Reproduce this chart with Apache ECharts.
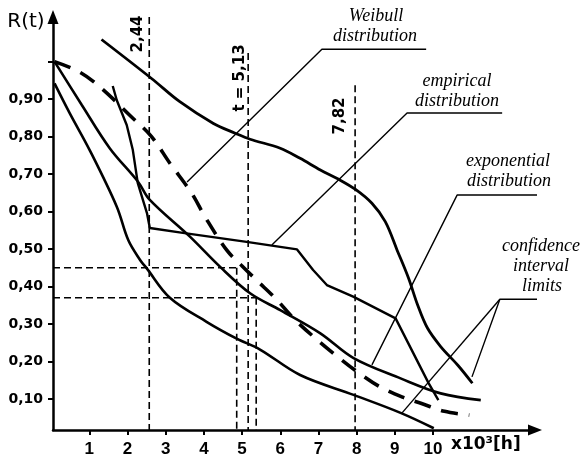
<!DOCTYPE html>
<html><head><meta charset="utf-8">
<script src="https://cdn.jsdelivr.net/npm/echarts@6/dist/echarts.min.js"></script>
<style>html,body{margin:0;padding:0;background:#fff}#c{width:587px;height:461px}</style>
</head><body><div id="c"></div>
<script>
// ---- data ----
const xTicks = [1, 2, 3, 4, 5, 6, 7, 8, 9, 10];
const yTicks = [0.1, 0.2, 0.3, 0.4, 0.5, 0.6, 0.7, 0.8, 0.9, 1.0];
const yLabelValues = [0.1, 0.2, 0.3, 0.4, 0.5, 0.6, 0.7, 0.8, 0.9];

const upperLimit = [[1.32,1.059],[2.63,0.955],[3.37,0.893],[4.25,0.835],[4.82,0.809],[5.21,0.793],[6.0,0.769],[6.52,0.742],[7.05,0.711],[7.53,0.686],[7.97,0.659],[8.40,0.622],[8.75,0.573],[9.06,0.497],[9.36,0.422],[9.6,0.35],[9.85,0.29],[10.2,0.24],[10.65,0.19],[11.03,0.142]];
const lowerLimit = [[0.09,0.942],[0.49,0.862],[1.01,0.764],[1.72,0.613],[2.02,0.524],[2.33,0.471],[2.5,0.449],[3.11,0.37],[4.07,0.306],[4.86,0.261],[5.47,0.232],[6.52,0.164],[7.92,0.111],[9.15,0.063],[10.02,0.022]];
const exponential = [[0.09,1.0],[0.8,0.885],[1.535,0.769],[2.28,0.679],[2.585,0.631],[3.635,0.533],[4.42,0.453],[5.21,0.382],[6.0,0.337],[7.05,0.275],[7.92,0.209],[9.15,0.155],[10.2,0.115],[11.25,0.097]];
const weibull = [[0.09,1.0],[0.75,0.972],[1.32,0.929],[2.10,0.853],[2.63,0.80],[3.11,0.729],[3.68,0.649],[4.03,0.586],[4.6,0.497],[5.0,0.455],[5.4,0.415],[5.87,0.369],[6.4,0.31],[7.0,0.255],[7.5,0.213],[8.05,0.17],[8.6,0.133],[9.2,0.105],[9.7,0.088],[10.3,0.067],[10.95,0.057]];
const empirical = [[1.614,0.935],[1.72,0.897],[1.98,0.831],[2.14,0.764],[2.27,0.676],[2.51,0.596],[2.585,0.556],[3.45,0.543],[5.12,0.519],[6.44,0.499],[6.86,0.444],[7.22,0.404],[7.91,0.373],[9.02,0.315],[9.88,0.143],[10.14,0.097]];

// reference (dashed) construction lines
const refVertical = [[[2.57,1.119],[2.57,0.0173]],[[5.16,1.023],[5.16,0.0173]],[[7.96,0.937],[7.96,0.0173]],[[4.86,0.45],[4.86,0.0173]],[[5.37,0.37],[5.37,0.0173]]];
const refHorizontal = [[[0.05,0.45],[4.86,0.45]],[[0.05,0.37],[5.37,0.37]]];

// leader lines for annotations
const leaders = [
  [[3.56,0.679],[7.09,1.033],[9.82,1.033]],
  [[5.78,0.511],[9.32,0.863],[11.81,0.863]],
  [[8.40,0.191],[10.63,0.644],[13.22,0.644]],
  [[11.02,0.159],[11.75,0.366],[14.03,0.366]],
  [[9.19,0.063],[11.75,0.366]]
];

const BLACK = '#000';
const series = [];
function curve(data, opts) {
  series.push(Object.assign({
    type: 'line', data: data, showSymbol: false, symbol: 'none', clip: false,
    lineStyle: { color: BLACK, width: 2.6 }, z: 3, silent: true
  }, opts));
}
curve(upperLimit, { smooth: 0.35, lineStyle: { color: BLACK, width: 2.8 } });
curve(lowerLimit, { smooth: 0.35 });
curve(exponential, { smooth: 0.35 });
curve(weibull, { smooth: 0.35, lineStyle: { color: BLACK, width: 3.6, type: [17, 11] } });
curve(empirical, { smooth: false, lineStyle: { color: BLACK, width: 2.4 } });
refVertical.concat(refHorizontal).forEach(function (seg) {
  curve(seg, { lineStyle: { color: BLACK, width: 1.6, type: [7, 4] }, z: 2 });
});
leaders.forEach(function (seg) {
  curve(seg, { lineStyle: { color: BLACK, width: 1.4 }, z: 2 });
});

const chart = echarts.init(document.getElementById('c'));
const italic = 'italic 18px "Liberation Serif"';
function txt(x, y, text, font, extra) {
  return Object.assign({ type: 'text', x: x, y: y, style: { text: text, font: font, fill: BLACK, align: 'center', verticalAlign: 'middle' } }, extra || {});
}
chart.setOption({
  animation: false,
  backgroundColor: '#fff',
  grid: { left: 53, right: 52, top: 17, bottom: 31 },
  xAxis: {
    type: 'value', min: 0.05, max: 12.67,
    axisLine: { lineStyle: { color: BLACK, width: 2.5 }, symbol: ['none', 'triangle'], symbolSize: [11, 14] },
    axisTick: { customValues: xTicks, length: 5, lineStyle: { color: BLACK, width: 2 } },
    axisLabel: { customValues: xTicks, color: BLACK, fontFamily: 'Liberation Sans', fontWeight: 'bold', fontSize: 17, margin: 11 },
    splitLine: { show: false }
  },
  yAxis: {
    type: 'value', min: 0.0173, max: 1.119,
    axisLine: { show: true, lineStyle: { color: BLACK, width: 2.5 }, symbol: ['none', 'triangle'], symbolSize: [11, 14] },
    axisTick: { show: true, customValues: yTicks, length: 5, lineStyle: { color: BLACK, width: 2 } },
    axisLabel: { customValues: yLabelValues, color: BLACK, fontFamily: 'DejaVu Sans', fontWeight: 'bold', fontSize: 14, margin: 10,
      formatter: function (v) { return v.toFixed(2).replace('.', ','); } },
    splitLine: { show: false }
  },
  series: series,
  graphic: [
    txt(26, 22, 'R(t)', '20px "DejaVu Sans"'),
    { type: 'text', x: 451, y: 445, style: { text: 'x10³[h]', font: 'bold 17px "DejaVu Sans"', fill: BLACK, align: 'left', verticalAlign: 'middle' } },
    txt(138.5, 34, '2,44', 'bold 15px "DejaVu Sans"', { rotation: Math.PI / 2 }),
    txt(240, 78, 't = 5,13', 'bold 15px "DejaVu Sans"', { rotation: Math.PI / 2 }),
    txt(340.5, 116, '7,82', 'bold 15px "DejaVu Sans"', { rotation: Math.PI / 2 }),
    txt(376, 16, 'Weibull', italic),
    txt(375, 36, 'distribution', italic),
    txt(457, 81, 'empirical', italic),
    txt(457, 101, 'distribution', italic),
    txt(508, 161, 'exponential', italic),
    txt(509, 181, 'distribution', italic),
    txt(541, 246, 'confidence', italic),
    txt(541, 266, 'interval', italic),
    txt(542, 286, 'limits', italic)
  ]
});
</script></body></html>
